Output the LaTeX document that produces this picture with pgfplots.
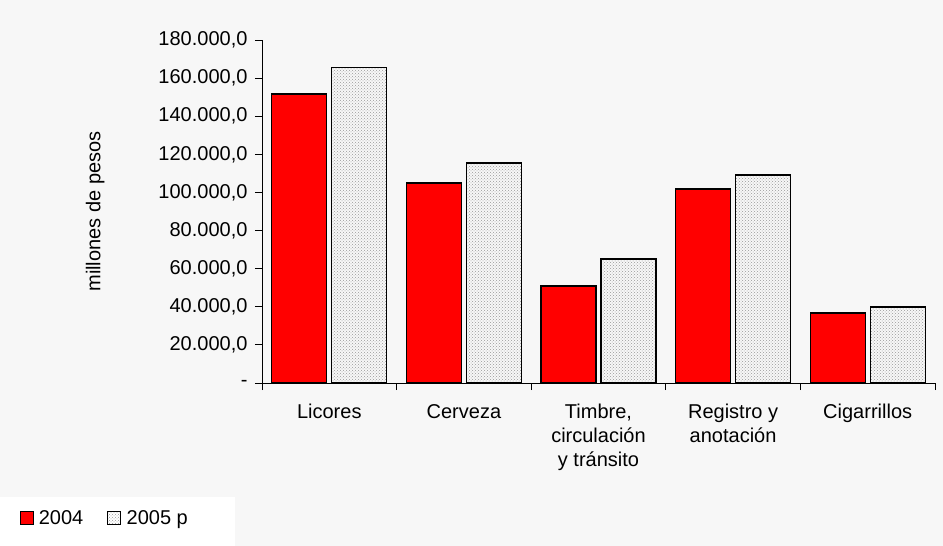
\documentclass[border=0pt]{standalone}
\usepackage{pgfplots}
\pgfplotsset{compat=1.18}
\usepackage{fontspec}
\setmainfont{Liberation Sans}
\usetikzlibrary{patterns}
\begin{document}
\begin{tikzpicture}
\fill[black!3] (-262pt,-163pt) rectangle (681pt,383pt);
\fill[white] (-262pt,-163pt) rectangle (-27pt,-114pt);
\begin{axis}[
  scale only axis, width=673pt, height=343pt,
  font=\fontsize{20}{24}\selectfont,
  ybar=5pt, bar width=55pt,
  scaled y ticks=false,
  xmin=-0.5, xmax=4.5, ymin=0, ymax=180000,
  axis x line*=bottom, axis y line*=left,
  axis line style={black, line width=0.8pt},
  xtick={0,1,2,3,4},
  xticklabels={\strut Licores,\strut Cerveza,{\strut Timbre,\\circulación\\y tránsito},{\strut Registro y\\anotación},\strut Cigarrillos},
  xticklabel style={align=center, anchor=north, yshift=-8pt},
  major x tick style={draw=none},
  minor xtick={-0.5,0.5,1.5,2.5,3.5,4.5},
  minor tick length=7pt,
  tick align=outside,
  major tick length=7pt,
  tick style={black, line width=0.8pt},
  ytick={0,20000,40000,60000,80000,100000,120000,140000,160000,180000},
  yticklabels={-,20.000{,}0,40.000{,}0,60.000{,}0,80.000{,}0,100.000{,}0,120.000{,}0,140.000{,}0,160.000{,}0,180.000{,}0},
  yticklabel style={xshift=-4pt},
  ylabel={millones de pesos},
  ylabel style={at={(axis description cs:-0.248,0.5)}, anchor=center},
  legend columns=2,
  legend style={at={(axis description cs:-0.365,-0.36)}, anchor=north west, draw=none, fill=none,
    font=\fontsize{20}{24}\selectfont, /tikz/every even column/.append style={column sep=22pt}},
  legend image code/.code={\draw[#1, line width=1pt] (0pt,-6pt) rectangle (13pt,7pt);},
  clip=false,
]
\addplot[draw=black, line width=1.2pt, fill=red] coordinates {(0,151700) (1,105000) (2,50900) (3,101800) (4,36700)};
\addplot[draw=black, line width=1.2pt, pattern=crosshatch dots, pattern color=gray!80] coordinates {(0,165400) (1,115500) (2,65100) (3,109200) (4,39900)};
\legend{\,2004,\,2005 p}
\end{axis}
\end{tikzpicture}
\end{document}
